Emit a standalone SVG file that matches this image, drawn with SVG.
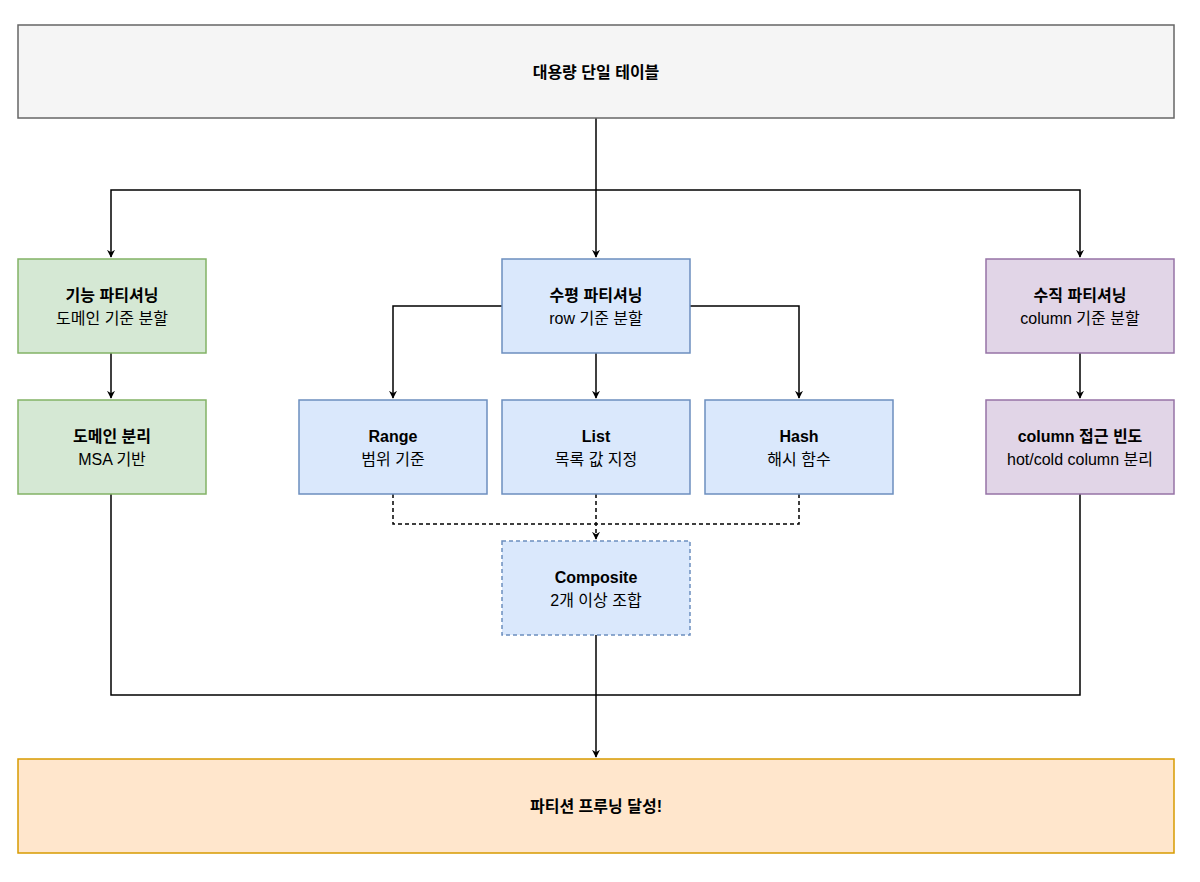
<svg xmlns="http://www.w3.org/2000/svg" width="1200" height="882" viewBox="0 0 1200 882">
<style>
text{font-family:"Liberation Sans","Noto Sans CJK KR",sans-serif;font-size:16px;fill:#000;text-anchor:middle}
.b{font-weight:bold}
.c{fill:none;stroke:#000;stroke-width:1.5}
.d{stroke-dasharray:4 3}
.g{fill:#d5e8d4;stroke:#82b366;stroke-width:1.5}
.bl{fill:#dae8fc;stroke:#6c8ebf;stroke-width:1.5}
.p{fill:#e1d5e7;stroke:#9673a6;stroke-width:1.5}
</style>
<defs><marker id="a" viewBox="0 0 10 10" refX="9" refY="5" markerWidth="8" markerHeight="8" orient="auto" markerUnits="userSpaceOnUse"><path d="M0,0 L10,5 L0,10 L3,5z" fill="#000"/></marker></defs>
<rect width="1200" height="882" fill="#fff"/>
<g id="connectors">
<path class="c" d="M596,118 V257" marker-end="url(#a)"/>
<path class="c" d="M596,190 H111 V257" marker-end="url(#a)"/>
<path class="c" d="M596,190 H1080 V257" marker-end="url(#a)"/>
<path class="c" d="M111,353 V398" marker-end="url(#a)"/>
<path class="c" d="M1080,353 V398" marker-end="url(#a)"/>
<path class="c" d="M502,306 H393 V398" marker-end="url(#a)"/>
<path class="c" d="M690,306 H799 V398" marker-end="url(#a)"/>
<path class="c" d="M596,353 V398" marker-end="url(#a)"/>
<path class="c d" d="M393,494 V524 H799 V494"/>
<path class="c d" d="M596,494 V539" marker-end="url(#a)"/>
<path class="c" d="M596,635 V757" marker-end="url(#a)"/>
<path class="c" d="M111,494 V695 H1080 V494"/>
</g>
<g id="top"><rect x="18" y="25" width="1156" height="93" fill="#f5f5f5" stroke="#666" stroke-width="1.5"/><text class="b" x="596" y="78">대용량 단일 테이블</text></g>
<g id="func"><rect class="g" x="18" y="259" width="188" height="94"/><text class="b" x="112" y="301">기능 파티셔닝</text><text x="112" y="324">도메인 기준 분할</text></g>
<g id="domain"><rect class="g" x="18" y="400" width="188" height="94"/><text class="b" x="112" y="442">도메인 분리</text><text x="112" y="465">MSA 기반</text></g>
<g id="horiz"><rect class="bl" x="502" y="259" width="188" height="94"/><text class="b" x="596" y="301">수평 파티셔닝</text><text x="596" y="324">row 기준 분할</text></g>
<g id="vert"><rect class="p" x="986" y="259" width="188" height="94"/><text class="b" x="1080" y="301">수직 파티셔닝</text><text x="1080" y="324">column 기준 분할</text></g>
<g id="freq"><rect class="p" x="986" y="400" width="188" height="94"/><text class="b" x="1080" y="442">column 접근 빈도</text><text x="1080" y="465">hot/cold column 분리</text></g>
<g id="range"><rect class="bl" x="299" y="400" width="188" height="94"/><text class="b" x="393" y="442">Range</text><text x="393" y="465">범위 기준</text></g>
<g id="list"><rect class="bl" x="502" y="400" width="188" height="94"/><text class="b" x="596" y="442">List</text><text x="596" y="465">목록 값 지정</text></g>
<g id="hash"><rect class="bl" x="705" y="400" width="188" height="94"/><text class="b" x="799" y="442">Hash</text><text x="799" y="465">해시 함수</text></g>
<g id="composite"><rect class="bl d" x="502" y="541" width="188" height="94"/><text class="b" x="596" y="583">Composite</text><text x="596" y="606">2개 이상 조합</text></g>
<g id="bottom"><rect x="18" y="759" width="1156" height="94" fill="#ffe6cc" stroke="#d79b00" stroke-width="1.5"/><text class="b" x="596" y="812">파티션 프루닝 달성!</text></g>
</svg>
